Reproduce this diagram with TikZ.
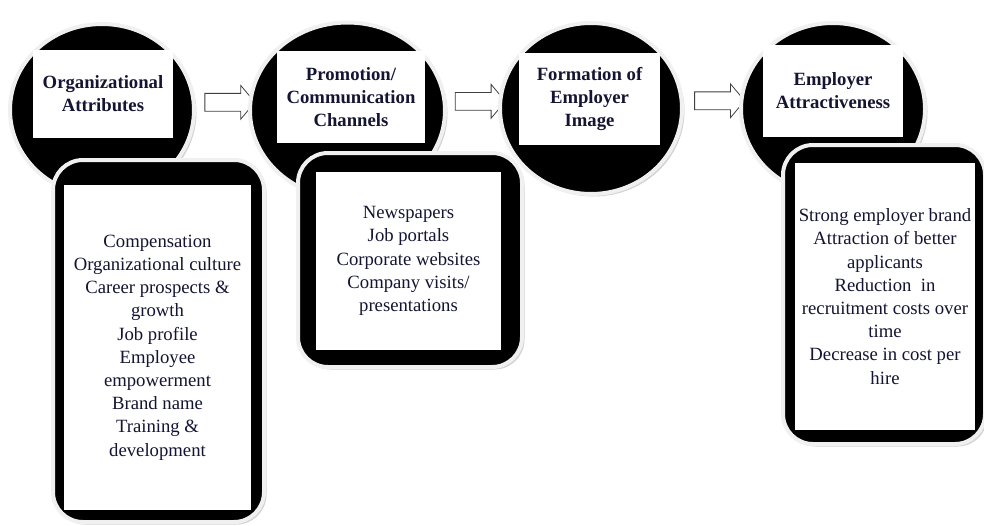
\documentclass[tikz,border=0pt]{standalone}
\usepackage{fontspec}
\setmainfont{Liberation Serif}
\usetikzlibrary{shapes.geometric,shapes.arrows,shadows,backgrounds}
\definecolor{navy}{rgb}{0.08,0.08,0.2}
\begin{document}
\begin{tikzpicture}[x=1pt,y=-1pt,line join=round,line cap=round,
	blob/.style={ellipse,fill=black,draw=gray!12,line width=4pt,inner sep=0pt,drop shadow={shadow xshift=2.5pt,shadow yshift=-2.5pt,fill=gray!70,opacity=.5}},
	card/.style={rectangle,rounded corners=30pt,fill=black,draw=gray!12,line width=4pt,inner sep=0pt,drop shadow={shadow xshift=2.5pt,shadow yshift=-2.5pt,fill=gray!70,opacity=.5}},
	head/.style={rectangle,fill=white,inner sep=0pt,align=center,text=navy,font=\bfseries\fontsize{18.7}{23}\selectfont},
	list/.style={rectangle,fill=white,inner sep=0pt,align=center,text=navy,font=\fontsize{18.7}{23.2}\selectfont},
	hollow/.style={single arrow,draw=gray!50!black,fill=white,line width=.8pt,inner xsep=0pt,inner ysep=8.5pt,minimum height=50pt,single arrow head extend=8pt,single arrow tip angle=100}]
	\useasboundingbox (0,0) rectangle (984,525);
	% circles with titles
	\node[blob,minimum width=184pt,minimum height=172pt] (c1) at (102,110) {};
	\node[blob,minimum width=195pt,minimum height=176pt] (c2) at (347.5,110.5) {};
	\node[blob,minimum width=182pt,minimum height=171pt] (c3) at (591,108.5) {};
	\node[blob,minimum width=184pt,minimum height=172pt] (c4) at (833,109) {};
	\node[head,minimum width=140pt,minimum height=88pt] (t1) at (103,94) {Organizational\\Attributes};
	\node[head,minimum width=148pt,minimum height=92pt] (t2) at (351,97) {Promotion/\\Communication\\Channels};
	\node[head,minimum width=141pt,minimum height=92pt] (t3) at (589.5,99) {Formation of\\Employer\\Image};
	\node[head,minimum width=140pt,minimum height=92pt] (t4) at (833,91) {Employer\\Attractiveness};
	% arrows between the circles
	\begin{scope}[on background layer]
		\path (c1.east) -- (c2.west) node[hollow,pos=.58,yshift=8pt] (a1) {};
		\path (c2.east) -- (c3.west) node[hollow,pos=.58,yshift=8pt] (a2) {};
		\path (c3.east) -- (c4.west) node[hollow,pos=.58,yshift=8pt] (a3) {};
	\end{scope}
	% lists
	\node[card,minimum width=211pt,minimum height=362pt] (r1) at (158.5,341) {};
	\node[card,minimum width=224pt,minimum height=214pt] (r2) at (410,260) {};
	\node[card,minimum width=202pt,minimum height=299pt] (r3) at (884,294.5) {};
	\node[list,minimum width=187pt,minimum height=325pt] (l1) at (157.5,347.5) {Compensation\\Organizational culture\\Career prospects \&\\growth\\Job profile\\Employee\\empowerment\\Brand name\\Training \&\\development};
	\node[list,minimum width=185pt,minimum height=178pt] (l2) at (408.5,261) {Newspapers\\Job portals\\Corporate websites\\Company visits/\\presentations};
	\node[list,minimum width=180pt,minimum height=267pt] (l3) at (885,296.5) {Strong employer brand\\Attraction of better\\applicants\\Reduction\ \ in\\recruitment costs over\\time\\Decrease in cost per\\hire};
\end{tikzpicture}
\end{document}
